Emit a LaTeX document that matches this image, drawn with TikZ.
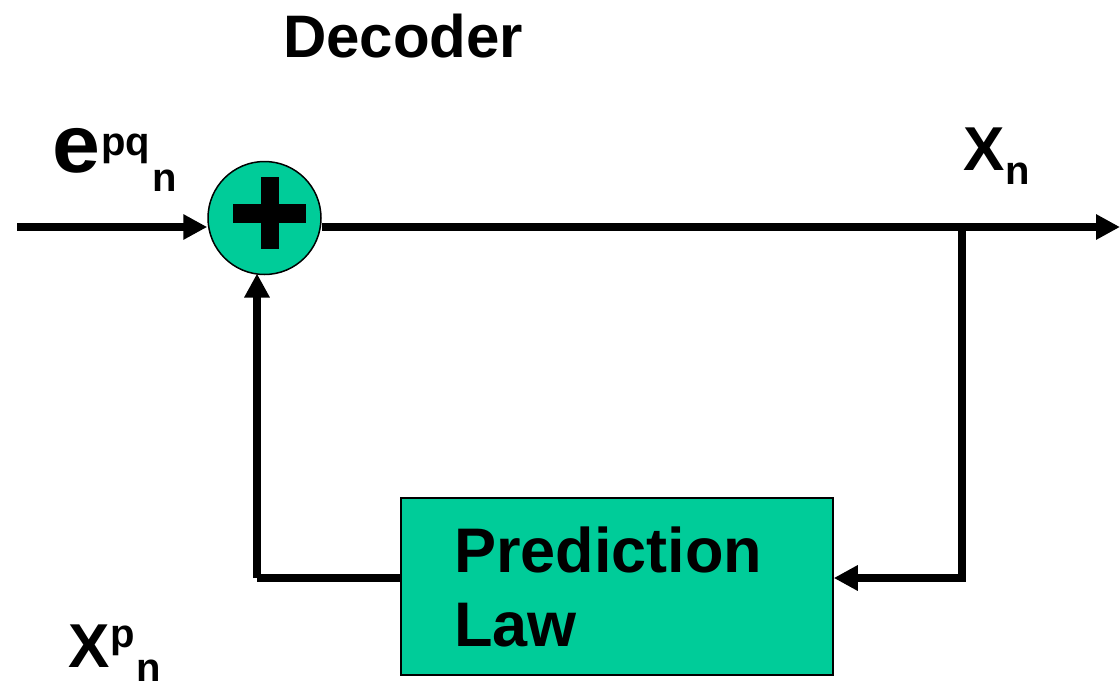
\documentclass[tikz,border=0pt]{standalone}
\usepackage{fontspec}
\setmainfont{Liberation Sans}
\usetikzlibrary{arrows.meta}
\definecolor{teal}{HTML}{00CC99}
\begin{document}
\begin{tikzpicture}[x=1pt,y=-1pt,
  wire/.style={line width=8pt},
  arr/.style={wire,-{Triangle[length=24pt,width=24pt]}},
  lbl/.style={inner sep=0pt,anchor=base west,font=\bfseries},
]
\useasboundingbox (0,0) rectangle (1120,683);
% title
\node[lbl,font=\bfseries\fontsize{60}{60}\selectfont] (title) at (283,57) {Decoder};
% summing junction
\node[circle,draw=black,line width=1.5pt,fill=teal,minimum size=113pt,inner sep=0pt] (sum) at (264.5,218) {};
\fill (233,203.5) rectangle (306,222.5);
\fill (261,177) rectangle (279,249);
% prediction box
\node[draw=black,line width=1.5pt,fill=teal,minimum width=432pt,minimum height=177pt,inner sep=0pt] (pred) at (617,586.5) {};
\node[lbl,font=\bfseries\fontsize{63}{63}\selectfont] (pl1) at (454,572) {Prediction};
\node[lbl,font=\bfseries\fontsize{63}{63}\selectfont] (pl2) at (454,646) {Law};
% coordinates
\coordinate (in) at (17,227);
\coordinate (out) at (1120,227);
\coordinate (br) at (962,227);
\coordinate (brd) at (962,578);
\coordinate (fbl) at (257,578);
% connectors
\draw[arr] (in) -- (sum.west |- in);
\draw[wire,-{Triangle[length=24pt,width=24pt]}] (sum.east |- in) -- (out);
\draw[wire] (br) -- (brd) -- ++(-10,0);
\draw[arr] (brd) -- (pred.east |- brd);
\draw[wire] (pred.west |- fbl) -- (fbl);
\draw[arr] (fbl) -- (257,273.5);
% labels
\node[lbl] (e) at (52,172) {\fontsize{82}{82}\selectfont\scalebox{1.05}[1]{e}};
\node[lbl,font=\bfseries\fontsize{40}{40}\selectfont] (epq) at (101,155) {pq};
\node[lbl,font=\bfseries\fontsize{40}{40}\selectfont] (en) at (152,191) {n};
\node[lbl,font=\bfseries\fontsize{62}{62}\selectfont] (xn) at (963,170) {X};
\node[lbl,font=\bfseries\fontsize{40}{40}\selectfont] (xnn) at (1005,184) {n};
\node[lbl,font=\bfseries\fontsize{62}{62}\selectfont] (xp) at (68,667) {X};
\node[lbl,font=\bfseries\fontsize{40}{40}\selectfont] (xpp) at (110,647) {p};
\node[lbl,font=\bfseries\fontsize{40}{40}\selectfont] (xpn) at (136,681) {n};
\end{tikzpicture}
\end{document}
